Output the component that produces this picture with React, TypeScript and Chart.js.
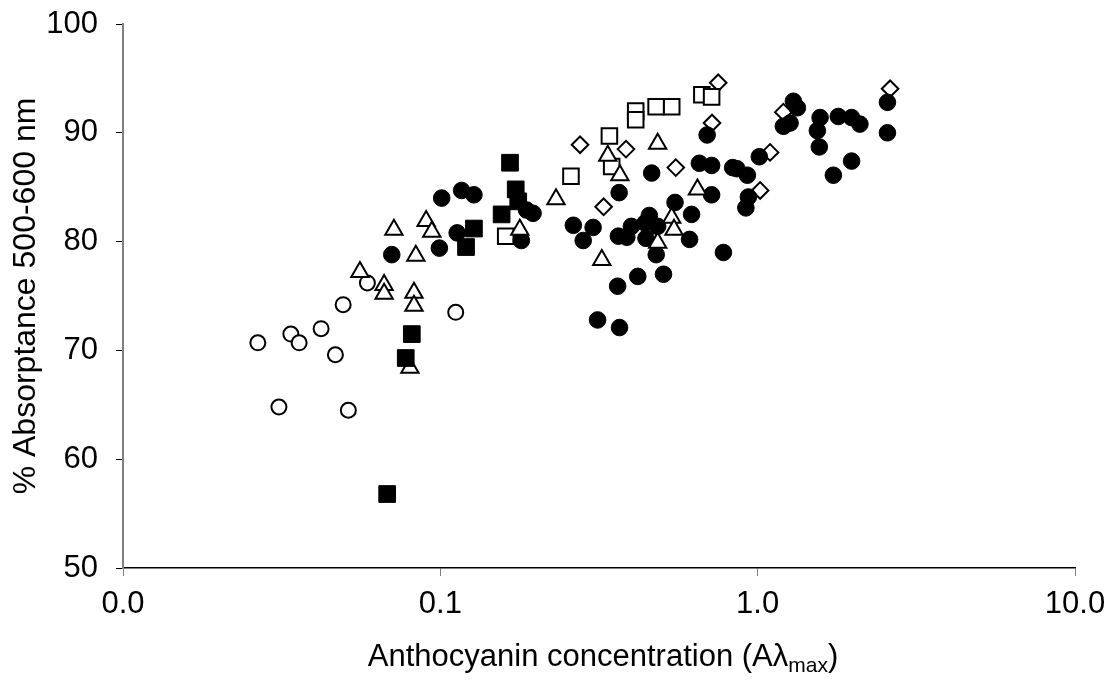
import React, { useEffect, useRef } from "react";
import { Chart, registerables } from "chart.js";

Chart.register(...registerables);

// ---- Data (x = anthocyanin concentration, y = % absorptance) ----
const openCircles: [number, number][] = [
  [0.0266, 70.7], [0.031, 64.8], [0.0338, 71.5], [0.0359, 70.7], [0.0421, 72.0],
  [0.0467, 69.6], [0.0494, 74.2], [0.0513, 64.5], [0.0589, 76.2], [0.1118, 73.5],
];

const openTriangles: [number, number][] = [
  [0.0558, 77.2], [0.0665, 76.0], [0.0665, 75.2], [0.0714, 81.1], [0.0802, 68.4],
  [0.0826, 75.3], [0.0826, 74.1], [0.0837, 78.7], [0.0902, 81.9], [0.094, 80.9],
  [0.178, 81.1], [0.2315, 83.9], [0.3227, 78.3], [0.337, 87.9], [0.368, 86.1],
  [0.484, 89.0], [0.484, 79.9], [0.536, 82.2], [0.545, 81.1], [0.646, 84.8],
];

const openSquares: [number, number][] = [
  [0.1607, 80.5], [0.258, 86.0], [0.341, 89.7], [0.3467, 86.9], [0.4127, 92.0],
  [0.4127, 91.2], [0.4786, 92.4], [0.536, 92.4], [0.667, 93.5], [0.716, 93.3],
];

const openDiamonds: [number, number][] = [
  [0.2756, 88.9], [0.327, 83.2], [0.3846, 88.5], [0.552, 86.8], [0.718, 90.9],
  [0.751, 94.6], [1.018, 84.7], [1.094, 88.2], [1.205, 91.9], [2.614, 94.05],
];

const filledSquares: [number, number][] = [
  [0.068, 56.8], [0.0778, 69.3], [0.0813, 71.5], [0.1205, 79.5], [0.1276, 81.2],
  [0.156, 82.5], [0.1658, 87.25], [0.1728, 84.8], [0.176, 83.7],
];

const filledCircles: [number, number][] = [
  [0.0703, 78.8], [0.0993, 79.4], [0.101, 84.0], [0.113, 80.8], [0.1167, 84.7],
  [0.1276, 84.3], [0.18, 80.1], [0.187, 82.9], [0.196, 82.6], [0.2625, 81.5],
  [0.282, 80.1], [0.303, 81.3], [0.313, 72.8], [0.362, 75.9], [0.367, 72.1],
  [0.366, 84.5], [0.364, 80.5], [0.387, 80.4], [0.4, 81.4], [0.419, 76.8],
  [0.4416, 81.7], [0.4446, 80.3], [0.4556, 82.4], [0.4634, 86.3], [0.479, 78.8],
  [0.484, 81.4], [0.505, 77.0], [0.549, 83.6], [0.61, 80.2], [0.619, 82.5],
  [0.655, 87.2], [0.693, 89.8], [0.716, 87.0], [0.716, 84.3], [0.78, 79.0],
  [0.834, 86.8], [0.86, 86.7], [0.928, 86.1], [0.918, 83.1], [0.935, 84.1],
  [1.012, 87.8], [1.205, 90.6], [1.265, 90.9], [1.296, 92.9], [1.334, 92.3],
  [1.542, 90.2], [1.573, 91.4], [1.564, 88.7], [1.732, 86.1], [1.795, 91.5],
  [1.977, 91.4], [2.1, 90.8], [1.977, 87.4], [2.564, 92.8], [2.564, 90.0],
];

const xTickValues: number[] = [0.01, 0.1, 1, 10];
const xTickLabels: string[] = ["0.0", "0.1", "1.0", "10.0"];
const yMin = 50;
const yMax = 100;
const yStep = 10;
const xMin = 0.01;
const xMax = 10;

const yTitle = "% Absorptance 500-600 nm";
const xTitleMain = "Anthocyanin concentration (A\u03bb";
const xTitleSub = "max";
const xTitleEnd = ")";

const FONT_FAMILY = '"Liberation Sans", Arial, sans-serif';
const FONT_SIZE = 31;

const toPts = (arr: [number, number][]) => arr.map(([x, y]) => ({ x, y }));

const xTitlePlugin = {
  id: "xTitleSub",
  afterDraw(chart: any) {
    const { ctx, chartArea } = chart;
    ctx.save();
    const big = `${FONT_SIZE}px ${FONT_FAMILY}`;
    const small = `21px ${FONT_FAMILY}`;
    ctx.font = big;
    const w1 = ctx.measureText(xTitleMain).width;
    const w3 = ctx.measureText(xTitleEnd).width;
    ctx.font = small;
    const w2 = ctx.measureText(xTitleSub).width;
    const total = w1 + w2 + w3;
    const cx = (chartArea.left + chartArea.right) / 2 + 4;
    let x = cx - total / 2;
    const baseline = 666;
    ctx.fillStyle = "#000";
    ctx.textBaseline = "alphabetic";
    ctx.textAlign = "left";
    ctx.font = big;
    ctx.fillText(xTitleMain, x, baseline);
    x += w1;
    ctx.font = small;
    ctx.fillText(xTitleSub, x, baseline + 6);
    x += w2;
    ctx.font = big;
    ctx.fillText(xTitleEnd, x, baseline);
    ctx.restore();
  },
};

export default function App() {
  const canvasRef = useRef<HTMLCanvasElement | null>(null);

  useEffect(() => {
    document.body.style.margin = "0";
    const canvas = canvasRef.current;
    if (!canvas) return;
    const common = { showLine: false };
    const chart = new Chart(canvas, {
      type: "scatter",
      data: {
        datasets: [
          {
            ...common,
            label: "filled squares",
            data: toPts(filledSquares),
            pointStyle: "rect",
            pointRadius: 11.8,
            backgroundColor: "#000",
            borderColor: "#000",
            borderWidth: 1,
          },
          {
            ...common,
            label: "open triangles",
            data: toPts(openTriangles),
            pointStyle: "triangle",
            pointRadius: 10,
            backgroundColor: "#fff",
            borderColor: "#000",
            borderWidth: 2,
          },
          {
            ...common,
            label: "filled circles",
            data: toPts(filledCircles),
            pointStyle: "circle",
            pointRadius: 8.3,
            backgroundColor: "#000",
            borderColor: "#000",
            borderWidth: 1,
          },
          {
            ...common,
            label: "open circles",
            data: toPts(openCircles),
            pointStyle: "circle",
            pointRadius: 7.5,
            backgroundColor: "#fff",
            borderColor: "#000",
            borderWidth: 2,
          },
          {
            ...common,
            label: "open squares",
            data: toPts(openSquares),
            pointStyle: "rect",
            pointRadius: 11,
            backgroundColor: "#fff",
            borderColor: "#000",
            borderWidth: 2,
          },
          {
            ...common,
            label: "open diamonds",
            data: toPts(openDiamonds),
            pointStyle: "rectRot",
            pointRadius: 8.3,
            backgroundColor: "#fff",
            borderColor: "#000",
            borderWidth: 2,
          },
        ],
      },
      options: {
        animation: false,
        responsive: true,
        maintainAspectRatio: false,
        layout: { padding: { top: 24, right: 44, left: 0, bottom: 0 } },
        plugins: {
          legend: { display: false },
          tooltip: { enabled: false },
        },
        scales: {
          x: {
            type: "logarithmic",
            min: xMin,
            max: xMax,
            afterBuildTicks: (scale: any) => {
              scale.ticks = xTickValues.map((v) => ({ value: v }));
            },
            afterFit: (scale: any) => {
              scale.height = 113;
              scale.paddingLeft = 0;
              scale.paddingRight = 0;
            },
            ticks: {
              autoSkip: false,
              maxRotation: 0,
              padding: 10,
              color: "#000",
              font: { family: FONT_FAMILY, size: FONT_SIZE },
              callback: (value: any) => {
                const i = xTickValues.findIndex((v) => Math.abs(v - Number(value)) < 1e-9);
                return i >= 0 ? xTickLabels[i] : "";
              },
            },
            grid: {
              drawOnChartArea: false,
              drawTicks: true,
              tickLength: 8,
              color: "#808080",
              lineWidth: 1,
            },
            border: { display: true, color: "#000", width: 1.5 },
            title: { display: false },
          },
          y: {
            type: "linear",
            min: yMin,
            max: yMax,
            afterFit: (scale: any) => {
              scale.width = 123;
              scale.paddingTop = 0;
              scale.paddingBottom = 0;
            },
            ticks: {
              stepSize: yStep,
              padding: 18,
              color: "#000",
              font: { family: FONT_FAMILY, size: FONT_SIZE },
            },
            grid: {
              drawOnChartArea: false,
              drawTicks: true,
              tickLength: 7,
              color: "#000",
              lineWidth: 1,
            },
            border: { display: true, color: "#808080", width: 2 },
            title: {
              display: true,
              text: yTitle,
              color: "#000",
              font: { family: FONT_FAMILY, size: 32 },
              padding: { top: 7, bottom: 0 },
            },
          },
        },
      },
      plugins: [xTitlePlugin],
    } as any);
    return () => chart.destroy();
  }, []);

  return (
    <div style={{ position: "fixed", left: 0, top: 0, width: 1119, height: 681, background: "#fff" }}>
      <canvas ref={canvasRef} />
    </div>
  );
}
